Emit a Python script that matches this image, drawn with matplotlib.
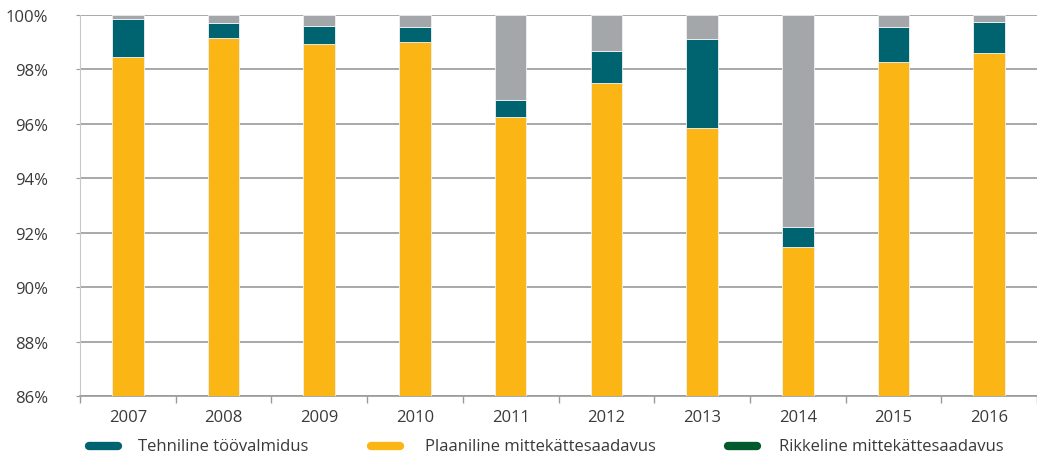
import matplotlib
matplotlib.use("Agg")
import matplotlib.pyplot as plt
from matplotlib.lines import Line2D
import numpy as np

years = ["2007", "2008", "2009", "2010", "2011", "2012", "2013", "2014", "2015", "2016"]
# cumulative levels (percent) of each stacked segment
plaaniline_top = [98.44, 99.15, 98.95, 98.99, 96.27, 97.50, 95.85, 91.47, 98.27, 98.60]
tehniline_top = [99.87, 99.70, 99.60, 99.56, 96.89, 98.68, 99.10, 92.20, 99.56, 99.76]
total = [100.0] * 10

y_ticks = [86, 88, 90, 92, 94, 96, 98, 100]
legend_labels = ["Tehniline töövalmidus", "Plaaniline mittekättesaadavus", "Rikkeline mittekättesaadavus"]

c_yellow = "#FBB515"
c_teal = "#006470"
c_gray = "#A3A7AA"
c_green = "#005A2B"
txt = "#3a3a3a"

plt.rcParams["font.family"] = ["Open Sans", "DejaVu Sans"]

fig = plt.figure(figsize=(10.37, 4.64), dpi=100)
ax = fig.add_axes([80 / 1037, 1 - 397 / 464, 1 - 80 / 1037, (397 - 16) / 464])

base = 86.0
x = np.arange(len(years))
w = 0.33
p = np.array(plaaniline_top)
t = np.array(tehniline_top)
tot = np.array(total)
ax.bar(x, p - base, w, bottom=base, color=c_yellow, edgecolor="#f2f2f2", linewidth=0.6, zorder=3)
ax.bar(x, t - p, w, bottom=p, color=c_teal, edgecolor="#f2f2f2", linewidth=0.6, zorder=3)
ax.bar(x, tot - t, w, bottom=t, color=c_gray, edgecolor="#f2f2f2", linewidth=0.6, zorder=3)

ax.set_xlim(-0.5, len(years) - 0.5)
ax.set_ylim(86, 100)
ax.set_yticks(y_ticks)
ax.set_yticklabels([f"{v}%" for v in y_ticks])
ax.yaxis.grid(True, color="#9a9a9a", linewidth=1.2, zorder=0)
ax.set_axisbelow(True)

ax.set_xticks(x)
ax.set_xticklabels(years)
ax.set_xticks(np.arange(-0.5, len(years) + 0.5, 1), minor=True)
ax.tick_params(axis="x", which="major", length=0, pad=9, labelsize=12, labelcolor=txt)
ax.tick_params(axis="x", which="minor", length=5, color="#9a9a9a", width=1)
ax.tick_params(axis="y", length=3, color="#9a9a9a", pad=20, labelsize=12, labelcolor=txt)

for s in ["top", "right"]:
    ax.spines[s].set_visible(False)
ax.spines["left"].set_color("#c8c8c8")
ax.spines["bottom"].set_color("#9a9a9a")
ax.spines["bottom"].set_linewidth(1.2)

# legend drawn along the bottom
leg_y = 1 - 447 / 464
entries = [(86, 138, c_teal), (368, 425, c_yellow), (725, 779, c_green)]
for (mx, tx, col), lab in zip(entries, legend_labels):
    fig.add_artist(Line2D([(mx + 3) / 1037, (mx + 32) / 1037], [leg_y, leg_y],
                          color=col, linewidth=6, solid_capstyle="round",
                          transform=fig.transFigure))
    fig.text(tx / 1037, leg_y, lab, ha="left", va="center", fontsize=12, color=txt)

fig.savefig("out.png", dpi=100)
